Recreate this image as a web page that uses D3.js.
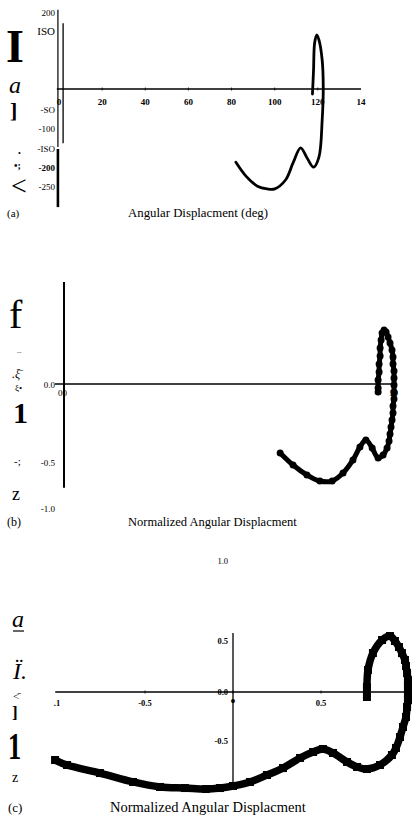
<!DOCTYPE html>
<html><head><meta charset="utf-8">
<script src="https://cdn.jsdelivr.net/npm/d3@7"></script>
<style>
body{margin:0;background:#fff}
svg{display:block}
text{font-family:"Liberation Serif","Times New Roman",serif;fill:#000}
</style>
</head><body>
<svg id="chart" width="412" height="821"></svg>
<script>
// ---------- Panel (a): Angular velocity vs angular displacement (deg) ----------
const aTicksX = [0, 20, 40, 60, 80, 100, 120, 140];
const aTickLabelsX = ["0", "20", "40", "60", "80", "100", "120", "14"];
const aTicksY = [200, 150, -50, -100, -150, -200, -250];
const aTickLabelsY = ["200", "ISO", "-SO", "-100", "-ISO", "-200", "-250"];
const aAngle = [82, 87, 92, 96.5, 100, 105, 108.5, 112, 115, 118, 120.5, 122, 122.5, 122, 120.5, 119.5, 118.5, 118, 117.5];
const aVelocity = [-189, -227, -251, -258, -258, -235, -191, -152, -178, -202, -176, -80, 3, 75, 127, 140, 119, 49, -13];

// ---------- Panel (b): normalized, circle markers ----------
const bTicksX = [0, 1];
const bTickLabelsX = ["00", "10"];
const bTicksY = [0, -0.5, -1];
const bTickLabelsY = ["0.0", "-0.5", "-1.0"];
const bAngle = [0.653, 0.692, 0.734, 0.773, 0.810, 0.843, 0.873, 0.894, 0.912, 0.931, 0.949,
  0.964, 0.976, 0.982, 0.985, 0.988, 0.991, 0.994, 0.994, 0.997, 0.997, 0.997, 0.997, 0.997, 0.994, 0.994,
  0.991, 0.985, 0.979, 0.973, 0.967, 0.961, 0.958, 0.955, 0.955, 0.952, 0.952, 0.949, 0.949, 0.949];
const bVelocity = [-0.442, -0.533, -0.641, -0.707, -0.707, -0.620, -0.487, -0.404, -0.359, -0.410, -0.474,
  -0.455, -0.410, -0.365, -0.321, -0.276, -0.231, -0.186, -0.141, -0.096, -0.051, -0.006, 0.038, 0.083, 0.128, 0.173,
  0.218, 0.263, 0.301, 0.333, 0.346, 0.327, 0.282, 0.231, 0.179, 0.128, 0.077, 0.026, -0.026, -0.051];

// ---------- Panel (c): normalized, square markers ----------
const cTicksX = [-1, -0.5, 0, 0.5];
const cTickLabelsX = [".1", "-0.5", "•", "0.5"];
const cTicksY = [1, 0.5, 0, -0.5];
const cTickLabelsY = ["1.0", "0.5", "0.0", "-0.5"];
const cAngle = [-1.011, -0.943, -0.756, -0.568, -0.415, -0.273, -0.153, -0.074, 0, 0.097, 0.193, 0.284, 0.381,
  0.455, 0.511, 0.568, 0.648, 0.705, 0.761, 0.835, 0.903,
  0.926, 0.949, 0.966, 0.983, 0.989, 0.994, 0.994, 0.994, 0.994, 0.989, 0.983, 0.977, 0.960, 0.943, 0.920, 0.892,
  0.847, 0.795, 0.767, 0.761, 0.761];
const cVelocity = [-0.694, -0.745, -0.827, -0.918, -0.969, -0.980, -0.990, -0.980, -0.959, -0.918, -0.847, -0.776, -0.673,
  -0.612, -0.582, -0.622, -0.714, -0.765, -0.786, -0.745, -0.643,
  -0.571, -0.459, -0.357, -0.255, -0.153, -0.082, -0.010, 0.059, 0.118, 0.186, 0.255, 0.314, 0.382, 0.441, 0.500, 0.531,
  0.506, 0.382, 0.216, 0.049, -0.051];

const captionA = "Angular Displacment (deg)";
const captionB = "Normalized Angular Displacment";
const captionC = "Normalized Angular Displacment";

const svg = d3.select("#chart");

function txt(g, s, x, y, size, opts = {}) {
  const t = g.append("text").attr("x", x).attr("y", y).attr("font-size", size).text(s);
  if (opts.weight) t.attr("font-weight", opts.weight);
  if (opts.style) t.attr("font-style", opts.style);
  if (opts.anchor) t.attr("text-anchor", opts.anchor);
  if (opts.transform) t.attr("transform", opts.transform);
  return t;
}
function vline(g, x, y1, y2, w) {
  g.append("line").attr("x1", x).attr("x2", x).attr("y1", y1).attr("y2", y2).attr("stroke", "#000").attr("stroke-width", w);
}
function hline(g, y, x1, x2, w) {
  g.append("line").attr("x1", x1).attr("x2", x2).attr("y1", y).attr("y2", y).attr("stroke", "#000").attr("stroke-width", w);
}

// ===== Panel (a) =====
{
  const g = svg.append("g");
  const x = d3.scaleLinear().domain([0, 140]).range([59, 361]);
  const y = d3.scaleLinear().domain([-250, 200]).range([185.8, 11.6]);

  hline(g, y(0), x(-1), x(140), 1.4);
  vline(g, x(-0.5), y(205), y(-150), 1.2);
  vline(g, x(-0.5), y(-155), y(-305), 2.6);
  vline(g, x(1.9), y(170), y(-140), 1.3);
  g.selectAll("line.tk").data(aTicksX.slice(1, 7)).join("line")
    .attr("x1", d => x(d)).attr("x2", d => x(d)).attr("y1", y(0) - 1.5).attr("y2", y(0) + 1.5)
    .attr("stroke", "#000").attr("stroke-width", 0.8);

  g.selectAll("text.xl").data(aTicksX).join("text")
    .attr("x", d => x(d)).attr("y", y(0) + 16).attr("text-anchor", "middle")
    .attr("font-size", 9).attr("font-weight", "bold")
    .text((d, i) => aTickLabelsX[i]);
  g.selectAll("text.yl").data(aTicksY).join("text")
    .attr("x", 55).attr("y", d => y(d) + 4.5).attr("text-anchor", "end")
    .attr("font-size", (d, i) => i === 1 ? 11 : 9)
    .attr("font-weight", (d, i) => aTickLabelsY[i] === "-200" ? "bold" : "normal")
    .text((d, i) => aTickLabelsY[i]);

  const line = d3.line().x((d, i) => x(aAngle[i])).y(d => y(d)).curve(d3.curveCatmullRom.alpha(0.5));
  g.append("path").attr("d", line(aVelocity)).attr("fill", "none").attr("stroke", "#000")
    .attr("stroke-width", 2.8).attr("stroke-linecap", "round").attr("stroke-linejoin", "round");

  // scanned y-axis title fragments
  txt(g, "I", 6, 62, 46, {weight: "bold"});
  txt(g, "a", 9, 93, 24, {style: "italic"});
  txt(g, "]", 10, 118, 22, {weight: "bold"});
  txt(g, "•", 18, 156, 8);
  txt(g, "•;", 14, 169, 10, {weight: "bold"});
  txt(g, "<", 11, 195, 28);
  txt(g, "(a)", 7, 217, 11);
  txt(g, captionA, 128, 217, 12.8);
}

// ===== Panel (b) =====
{
  const g = svg.append("g");
  const x = d3.scaleLinear().domain([0, 1]).range([64, 395]);
  const y = d3.scaleLinear().domain([0, -0.5, -1]).range([384, 462, 508]);

  hline(g, y(0), 55, x(0.99), 1.6);
  vline(g, x(0), y(0.654), y(-0.78), 2);

  g.selectAll("text.xl").data(bTicksX).join("text")
    .attr("x", d => x(d) + 3).attr("y", y(0) + 12).attr("text-anchor", "end")
    .attr("font-size", 9).attr("font-weight", (d, i) => i === 1 ? "bold" : "normal")
    .text((d, i) => bTickLabelsX[i]);
  g.selectAll("text.yl").data(bTicksY).join("text")
    .attr("x", 55).attr("y", d => y(d) + 3.5).attr("text-anchor", "end")
    .attr("font-size", 9)
    .text((d, i) => bTickLabelsY[i]);

  const pts = bVelocity.map((v, i) => [x(bAngle[i]), y(v)]);
  const line = d3.line().curve(d3.curveCatmullRom.alpha(0.5));
  g.append("path").attr("d", line(pts)).attr("fill", "none").attr("stroke", "#000")
    .attr("stroke-width", 5).attr("stroke-linecap", "round").attr("stroke-linejoin", "round");
  g.selectAll("circle").data(pts).join("circle")
    .attr("cx", d => d[0]).attr("cy", d => d[1]).attr("r", 3.5).attr("fill", "#000");

  txt(g, "f", 9, 328, 40);
  txt(g, "...", 17, 353, 6);
  txt(g, ".ξ̄", 12, 378, 12, {style: "italic"});
  txt(g, "ξ•", 15, 391, 9);
  txt(g, "1", 13, 423, 30, {weight: "bold"});
  txt(g, "-;", 14, 465, 11);
  txt(g, "z", 12, 500, 18);
  txt(g, "(b)", 7, 526, 12);
  txt(g, captionB, 128, 526, 12.5);
}

// ===== Panel (c) =====
{
  const g = svg.append("g");
  const x = d3.scaleLinear().domain([-1, 1]).range([57, 409]);
  const y = d3.scaleLinear().domain([-0.5, 0, 0.5, 1]).range([741, 692, 641, 561]);

  hline(g, y(0), x(-1.01), 412, 1.5);
  vline(g, x(0), y(0.55), y(-0.93), 1.3);
  g.selectAll("line.tk").data(cTicksX.slice(1)).join("line")
    .attr("x1", d => x(d)).attr("x2", d => x(d)).attr("y1", y(0) - 1.5).attr("y2", y(0) + 1.5)
    .attr("stroke", "#000").attr("stroke-width", 0.8);

  g.selectAll("text.xl").data(cTicksX).join("text")
    .attr("x", d => x(d)).attr("y", y(0) + 14).attr("text-anchor", "middle")
    .attr("font-size", (d, i) => i === 2 ? 14 : 8.5).attr("font-weight", "bold")
    .text((d, i) => cTickLabelsX[i]);
  g.selectAll("text.yl").data(cTicksY).join("text")
    .attr("x", 228).attr("y", d => y(d) + 3).attr("text-anchor", "end")
    .attr("font-size", 8.5).attr("font-weight", (d, i) => i === 0 ? "normal" : "bold")
    .text((d, i) => cTickLabelsY[i]);

  const pts = cVelocity.map((v, i) => [x(cAngle[i]), y(v)]);
  const line = d3.line().curve(d3.curveCatmullRom.alpha(0.5));
  g.append("path").attr("d", line(pts)).attr("fill", "none").attr("stroke", "#000")
    .attr("stroke-width", 7.5).attr("stroke-linejoin", "round");
  g.selectAll("rect").data(pts).join("rect")
    .attr("x", d => d[0] - 4).attr("y", d => d[1] - 4).attr("width", 8).attr("height", 8).attr("fill", "#000");

  txt(g, "a", 12, 627, 24, {style: "italic"});
  hline(g, 631, 13, 24, 1.2);
  txt(g, "Ï.", 13, 679, 24, {style: "italic"});
  txt(g, "<̄", 13, 700, 11);
  txt(g, "]", 12, 718, 17, {weight: "bold"});
  txt(g, "1", 8, 759, 38, {weight: "bold", transform: "translate(8,0) scale(0.7,1) translate(-8,0)"});
  txt(g, "z", 12, 782, 14);
  txt(g, "(c)", 8, 812, 13);
  txt(g, captionC, 110, 812, 14.5);
}
</script>
</body></html>
